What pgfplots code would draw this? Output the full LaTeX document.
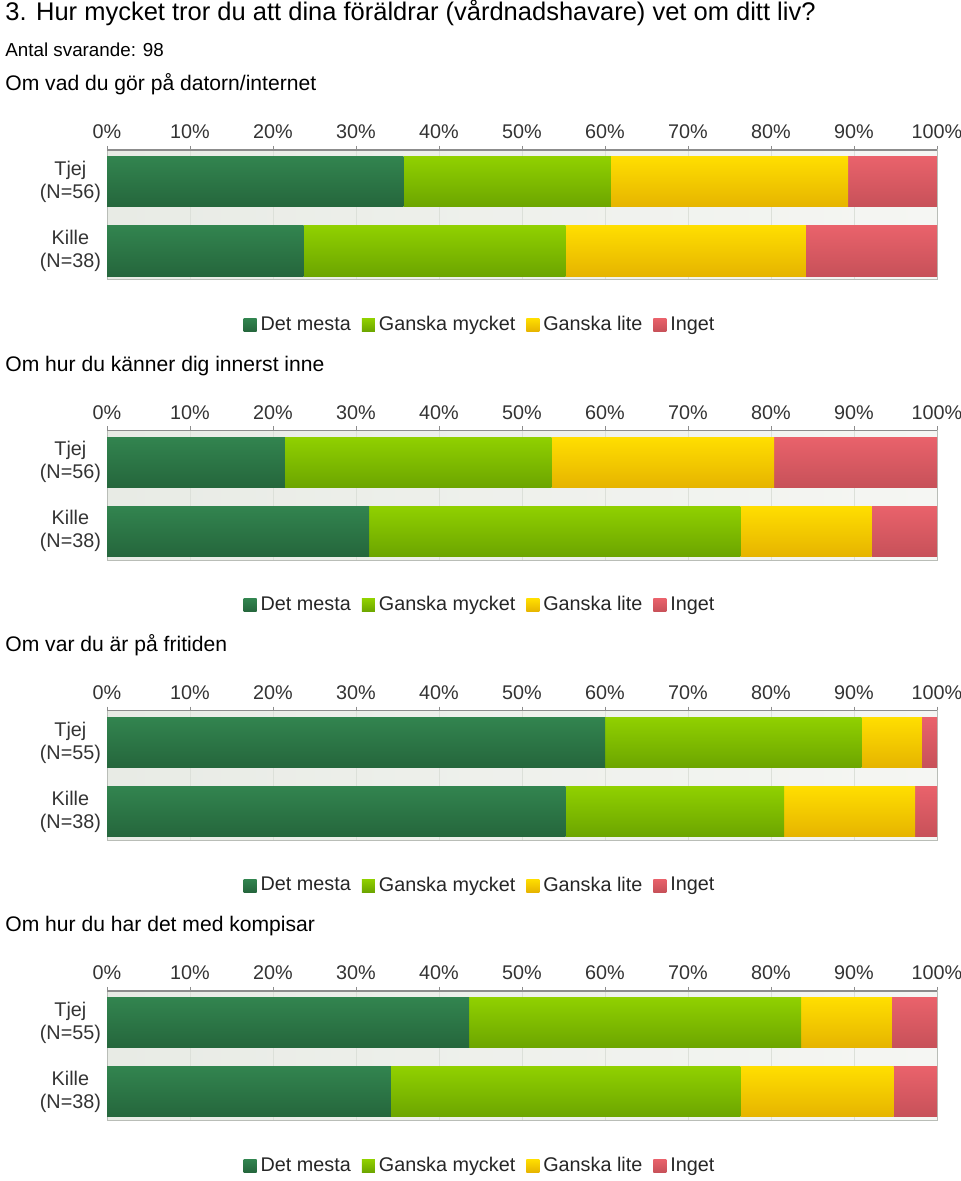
\documentclass[border=0pt]{standalone}
\usepackage{fontspec}
\setmainfont{Liberation Sans}
\usepackage{pgfplots}
\pgfplotsset{compat=1.18}

\definecolor{dmT}{HTML}{32844F}
\definecolor{dmB}{HTML}{25663C}
\definecolor{gmT}{HTML}{90D000}
\definecolor{gmB}{HTML}{6CA500}
\definecolor{glT}{HTML}{FFDE00}
\definecolor{glB}{HTML}{E6B400}
\definecolor{inT}{HTML}{E9626B}
\definecolor{inB}{HTML}{C75159}
\definecolor{bgL}{HTML}{E8EBE5}
\definecolor{bgR}{HTML}{F5F6F3}
\definecolor{gridc}{HTML}{DCE0D9}
\definecolor{boxc}{HTML}{B9BDB7}
\definecolor{topc}{HTML}{8C8C8C}

\pgfplotsset{
  geom/.style={
    xbar stacked, bar width=25pt,
    width=415pt, height=65pt, scale only axis,
    xmin=0, xmax=100, ymin=-0.42, ymax=1.464,
  },
  mychart/.style={
    geom,
    xtick={0,10,...,100},
    xticklabels={0\%,10\%,20\%,30\%,40\%,50\%,60\%,70\%,80\%,90\%,100\%},
    xticklabel pos=upper, xtick pos=right, tick align=outside, major tick length=2pt,
    x tick style={draw=topc},
    ytick={0,1}, yticklabels={{Kille\\(N=38)},{Tjej\\(N=#1)}},
    ytick style={draw=none},
    yticklabel style={align=center, font=\fontsize{9.9}{11.5}\selectfont, text=black!80, xshift=2.5pt},
    xticklabel style={font=\fontsize{9.9}{11.5}\selectfont, text=black!80},
    xmajorgrids, grid style={draw=gridc, line width=0.5pt},
    axis background/.style={left color=bgL, right color=bgR},
    axis line style={draw=boxc, line width=0.5pt},
    extra description/.code={\draw[topc, line width=0.7pt] (rel axis cs:0,1) -- (rel axis cs:1,1);},
    legend style={at={(0.4506,-0.346)}, anchor=center, draw=none, fill=none,
      font=\fontsize{9.9}{11}\selectfont, text=black!85,
      /tikz/every even column/.append style={column sep=3.5pt}},
    legend columns=4,
    legend image code/.code={\path[##1,draw=none] (0pt,-3.25pt) rectangle (6.5pt,3.25pt);},
  },
  overlay/.style={geom, hide axis},
  dm/.style={draw=none, top color=dmT, bottom color=dmB},
  gm/.style={draw=none, top color=gmT, bottom color=gmB},
  gl/.style={draw=none, top color=glT, bottom color=glB},
  in/.style={draw=none, top color=inT, bottom color=inB},
}

\begin{document}
\begin{tikzpicture}
\useasboundingbox (0,0) rectangle (480pt,590.5pt);

% ---------- Chart 1: Om vad du gör på datorn/internet
\begin{axis}[mychart=56, at={(53.5pt,450.5pt)}, anchor=south west]
\addplot[dm] coordinates {(35.71,1)};
\addplot[gm] coordinates {(25.00,1)};
\addplot[gl] coordinates {(28.57,1)};
\addplot[in] coordinates {(10.71,1)};
\legend{Det mesta,Ganska mycket,Ganska lite,Inget}
\end{axis}
\begin{axis}[overlay, at={(53.5pt,450.5pt)}, anchor=south west]
\addplot[dm] coordinates {(23.68,0)};
\addplot[gm] coordinates {(31.58,0)};
\addplot[gl] coordinates {(28.95,0)};
\addplot[in] coordinates {(15.79,0)};
\end{axis}

% ---------- Chart 2: Om hur du känner dig innerst inne
\begin{axis}[mychart=56, at={(53.5pt,310.35pt)}, anchor=south west]
\addplot[dm] coordinates {(21.43,1)};
\addplot[gm] coordinates {(32.14,1)};
\addplot[gl] coordinates {(26.79,1)};
\addplot[in] coordinates {(19.64,1)};
\legend{Det mesta,Ganska mycket,Ganska lite,Inget}
\end{axis}
\begin{axis}[overlay, at={(53.5pt,310.35pt)}, anchor=south west]
\addplot[dm] coordinates {(31.58,0)};
\addplot[gm] coordinates {(44.74,0)};
\addplot[gl] coordinates {(15.79,0)};
\addplot[in] coordinates {(7.89,0)};
\end{axis}

% ---------- Chart 3: Om var du är på fritiden
\begin{axis}[mychart=55, at={(53.5pt,170.2pt)}, anchor=south west]
\addplot[dm] coordinates {(60.00,1)};
\addplot[gm] coordinates {(30.91,1)};
\addplot[gl] coordinates {(7.27,1)};
\addplot[in] coordinates {(1.82,1)};
\legend{Det mesta,Ganska mycket,Ganska lite,Inget}
\end{axis}
\begin{axis}[overlay, at={(53.5pt,170.2pt)}, anchor=south west]
\addplot[dm] coordinates {(55.26,0)};
\addplot[gm] coordinates {(26.32,0)};
\addplot[gl] coordinates {(15.79,0)};
\addplot[in] coordinates {(2.63,0)};
\end{axis}

% ---------- Chart 4: Om hur du har det med kompisar
\begin{axis}[mychart=55, at={(53.5pt,30.05pt)}, anchor=south west]
\addplot[dm] coordinates {(43.64,1)};
\addplot[gm] coordinates {(40.00,1)};
\addplot[gl] coordinates {(10.91,1)};
\addplot[in] coordinates {(5.45,1)};
\legend{Det mesta,Ganska mycket,Ganska lite,Inget}
\end{axis}
\begin{axis}[overlay, at={(53.5pt,30.05pt)}, anchor=south west]
\addplot[dm] coordinates {(34.21,0)};
\addplot[gm] coordinates {(42.11,0)};
\addplot[gl] coordinates {(18.42,0)};
\addplot[in] coordinates {(5.26,0)};
\end{axis}

\node[anchor=base west, inner sep=0pt, font=\fontsize{12.75}{15}\selectfont] at (2.5pt,580pt)
  {3. Hur mycket tror du att dina föräldrar (vårdnadshavare) vet om ditt liv?};
\node[anchor=base west, inner sep=0pt, font=\fontsize{9.4}{11}\selectfont] at (2.5pt,562pt)
  {Antal svarande: 98};
\node[anchor=base west, inner sep=0pt, font=\fontsize{10.55}{12.5}\selectfont] at (2.5pt,545pt)
  {Om vad du gör på datorn/internet};
\node[anchor=base west, inner sep=0pt, font=\fontsize{10.55}{12.5}\selectfont] at (2.5pt,404.85pt)
  {Om hur du känner dig innerst inne};
\node[anchor=base west, inner sep=0pt, font=\fontsize{10.55}{12.5}\selectfont] at (2.5pt,264.7pt)
  {Om var du är på fritiden};
\node[anchor=base west, inner sep=0pt, font=\fontsize{10.55}{12.5}\selectfont] at (2.5pt,124.55pt)
  {Om hur du har det med kompisar};
\end{tikzpicture}
\end{document}
